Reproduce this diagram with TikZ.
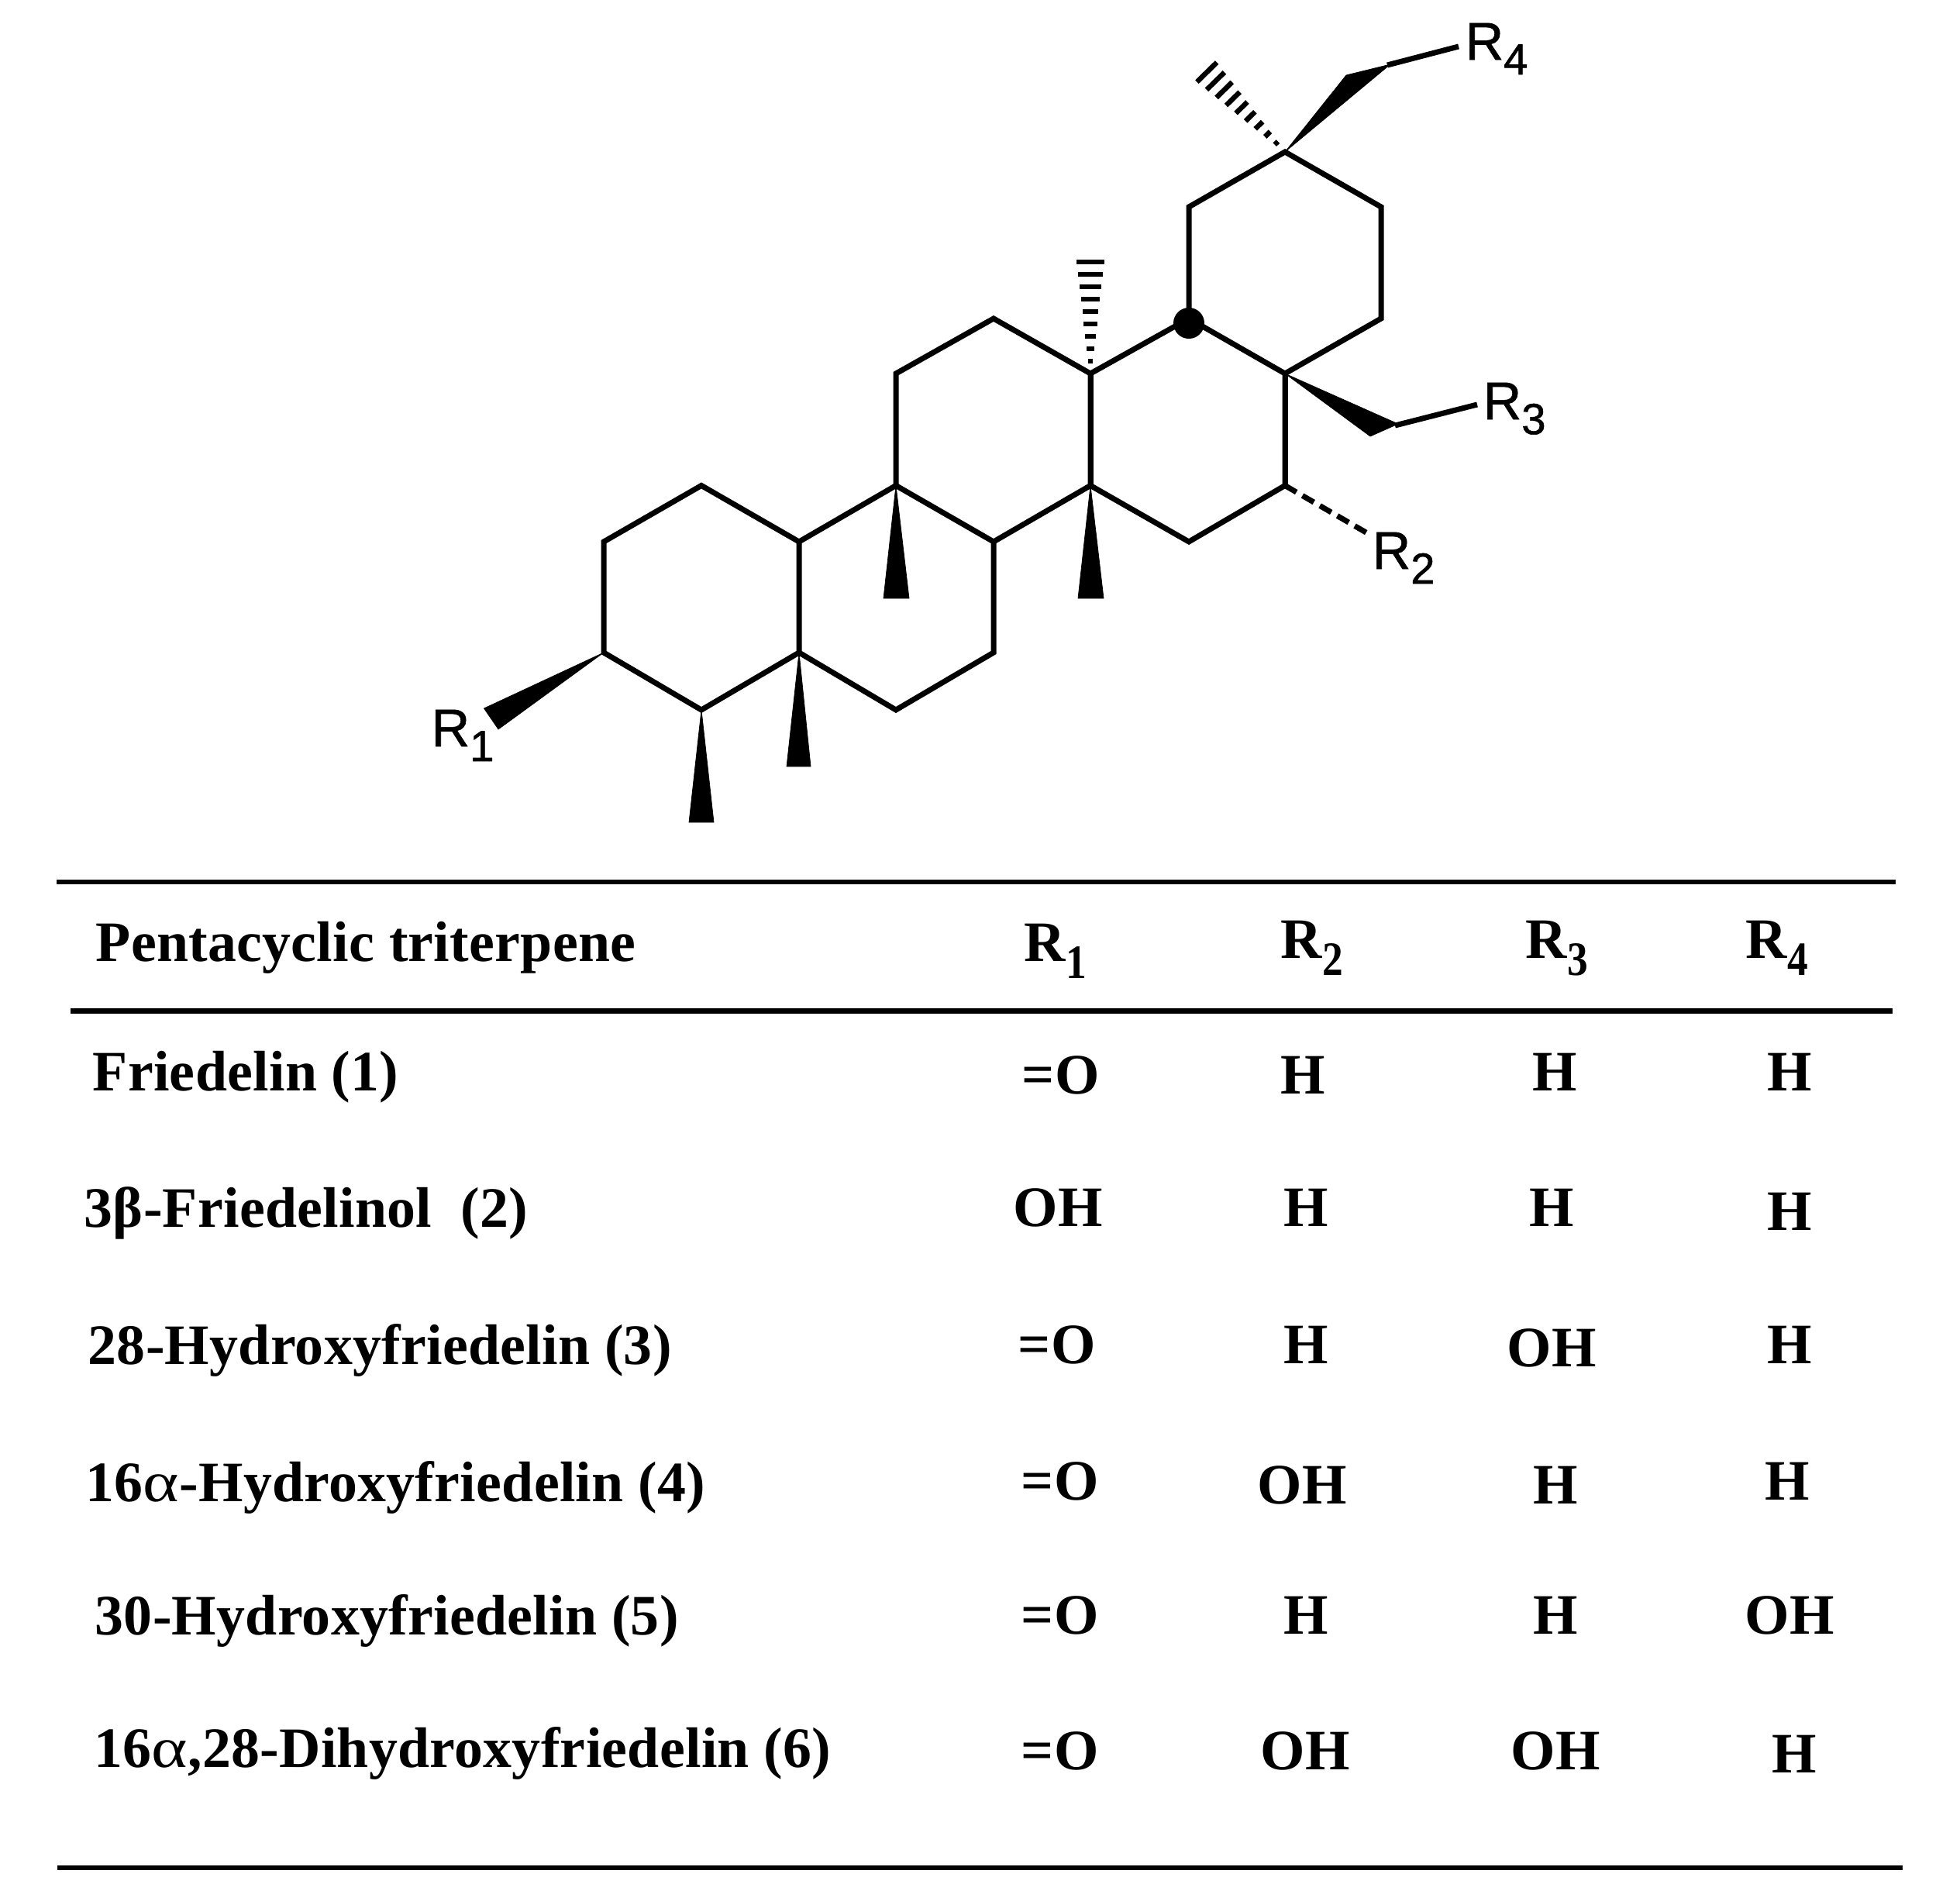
\documentclass[tikz,border=0pt]{standalone}
\usepackage{fontspec}
\setmainfont[LetterSpace=0.4]{Liberation Serif}
\newfontfamily\labelfont[FakeBold=1]{Liberation Sans}
\newcommand{\hashes}{\foreach \d in {.16,.32,...,1.45} {
  \pgfmathsetmacro\hw{0.01+0.118*\d}
  \draw [line width=0.065cm] (\d,-\hw) -- (\d,\hw);
}}
\newcommand{\tabsub}[1]{R\raisebox{-0.3em}{\scalebox{.95}[1.1]{\fontsize{16}{16}\selectfont #1}}}
\newcommand{\molsub}[1]{R\raisebox{-0.28em}{\fontsize{16}{16}\selectfont #1}}
\newcommand{\wideal}{\scalebox{1.2}[1]{\textmd{α}}}
\tikzset{
  bond/.style={line width=0.07cm, line join=miter},
  wedgebond/.style={fill=black, draw=black, line width=0.2pt},
  rule/.style={line width=0.065cm},
  cell/.style={anchor=base west, inner sep=0pt, font=\fontsize{21}{21}\selectfont\bfseries},
  rlabel/.style={anchor=base west, inner sep=0pt, font=\labelfont\fontsize{19.5}{19.5}\selectfont},
}
\begin{document}
\begin{tikzpicture}[x=1cm, y=-1cm]
\useasboundingbox (0,0) rectangle (25.29,24.39);
% ring atoms
\coordinate (a1) at (7.79,6.99);
\coordinate (a2) at (9.05,6.265);
\coordinate (a3) at (10.31,6.99);
\coordinate (a4) at (10.31,8.42);
\coordinate (a5) at (9.05,9.16);
\coordinate (a6) at (7.79,8.42);
\coordinate (b2) at (11.56,6.265);
\coordinate (b3) at (12.82,6.99);
\coordinate (b4) at (12.82,8.42);
\coordinate (b5) at (11.56,9.16);
\coordinate (c2) at (11.56,4.82);
\coordinate (c3) at (12.82,4.11);
\coordinate (c4) at (14.07,4.82);
\coordinate (c5) at (14.07,6.265);
\coordinate (d2) at (15.34,4.11);
\coordinate (d3) at (16.58,4.82);
\coordinate (d4) at (16.58,6.265);
\coordinate (d5) at (15.34,6.99);
\coordinate (e2) at (15.34,2.67);
\coordinate (e3) at (16.58,1.96);
\coordinate (e4) at (17.82,2.67);
\coordinate (e5) at (17.82,4.11);
% rings
\draw [bond] (a1) -- (a2) -- (a3) -- (a4) -- (a5) -- (a6) -- cycle;
\draw [bond] (a3) -- (b2) -- (b3) -- (b4) -- (b5) -- (a4);
\draw [bond] (b2) -- (c2) -- (c3) -- (c4) -- (c5) -- (b3);
\draw [bond] (c4) -- (d2) -- (d3) -- (d4) -- (d5) -- (c5);
\draw [bond] (d2) -- (e2) -- (e3) -- (e4) -- (e5) -- (d3);
\draw [bond] (c4) -- (c5);
\draw [bond] (d3) -- (d4);
\fill (15.34,4.17) circle (0.2);
% wedges
\fill [wedgebond] (a6) -- (6.245,9.14) -- (6.43,9.41) -- cycle;
\fill [wedgebond] (a5) -- (8.89,10.61) -- (9.21,10.61) -- cycle;
\fill [wedgebond] (a4) -- (10.15,9.89) -- (10.46,9.89) -- cycle;
\fill [wedgebond] (b2) -- (11.40,7.72) -- (11.73,7.72) -- cycle;
\fill [wedgebond] (c5) -- (13.91,7.72) -- (14.24,7.72) -- cycle;
\fill [wedgebond] (d3) -- (17.68,5.63) -- (18.04,5.47) -- cycle;
\fill [wedgebond] (e3) -- (17.37,0.97) -- (17.94,0.83) -- cycle;
% hashed bonds
\begin{scope}[shift={(c4)}, rotate=90]
\hashes
\end{scope}
\begin{scope}[shift={(e3)}, rotate=134.4]
\hashes
\end{scope}
% side chains
\coordinate (r2end) at (17.66,6.89);
\coordinate (r3start) at (18.00,5.49);
\coordinate (r3end) at (19.06,5.22);
\coordinate (r4start) at (17.90,0.84);
\coordinate (r4end) at (18.82,0.60);
\draw [bond, dash pattern=on 0.17cm off 0.09cm] (d4) -- (r2end);
\draw [bond] (r3start) -- (r3end);
\draw [bond] (r4start) -- (r4end);
\node [rlabel] (lab1) at (5.56,9.63) {\molsub{1}};
\node [rlabel] (lab2) at (17.70,7.34) {\molsub{2}};
\node [rlabel] (lab3) at (19.13,5.41) {\molsub{3}};
\node [rlabel] (lab4) at (18.90,0.77) {\molsub{4}};
% table rules
\coordinate (top1) at (0.73,11.38);
\coordinate (top2) at (24.46,11.38);
\coordinate (mid1) at (0.91,13.045);
\coordinate (mid2) at (24.42,13.045);
\coordinate (bot1) at (0.74,24.10);
\coordinate (bot2) at (24.55,24.10);
\draw [rule] (top1) -- (top2);
\draw [rule] (mid1) -- (mid2);
\draw [rule] (bot1) -- (bot2);
% header
\node [cell] (head0) at (1.23,12.40) {Pentacyclic triterpene};
\node [cell] (head1) at (13.21,12.40) {\tabsub{1}};
\node [cell] (head2) at (16.52,12.36) {\tabsub{2}};
\node [cell] (head3) at (19.68,12.36) {\tabsub{3}};
\node [cell] (head4) at (22.52,12.36) {\tabsub{4}};
% row names
\node [cell] (name1) at (1.19,14.07) {Friedelin (1)};
\node [cell] (name2) at (1.08,15.83) {3β-Friedelinol\ \ (2)};
\node [cell] (name3) at (1.13,17.60) {28-Hydroxyfriedelin (3)};
\node [cell] (name4) at (1.10,19.37) {16\wideal-Hydroxyfriedelin (4)};
\node [cell] (name5) at (1.22,21.09) {30-Hydroxyfriedelin (5)};
\node [cell] (name6) at (1.21,22.80) {16\wideal,28-Dihydroxyfriedelin (6)};
% values
\node [cell] (v11) at (13.18,14.11) {=O};
\node [cell] (v12) at (16.52,14.11) {H};
\node [cell] (v13) at (19.77,14.07) {H};
\node [cell] (v14) at (22.80,14.07) {H};
\node [cell] (v21) at (13.07,15.82) {OH};
\node [cell] (v22) at (16.56,15.82) {H};
\node [cell] (v23) at (19.73,15.82) {H};
\node [cell] (v24) at (22.80,15.87) {H};
\node [cell] (v31) at (13.13,17.59) {=O};
\node [cell] (v32) at (16.56,17.59) {H};
\node [cell] (v33) at (19.44,17.63) {OH};
\node [cell] (v34) at (22.80,17.59) {H};
\node [cell] (v41) at (13.17,19.35) {=O};
\node [cell] (v42) at (16.22,19.40) {OH};
\node [cell] (v43) at (19.78,19.40) {H};
\node [cell] (v44) at (22.77,19.35) {H};
\node [cell] (v51) at (13.17,21.08) {=O};
\node [cell] (v52) at (16.56,21.08) {H};
\node [cell] (v53) at (19.78,21.08) {H};
\node [cell] (v54) at (22.51,21.08) {OH};
\node [cell] (v61) at (13.17,22.83) {=O};
\node [cell] (v62) at (16.26,22.83) {OH};
\node [cell] (v63) at (19.49,22.83) {OH};
\node [cell] (v64) at (22.86,22.87) {H};
\end{tikzpicture}
\end{document}
